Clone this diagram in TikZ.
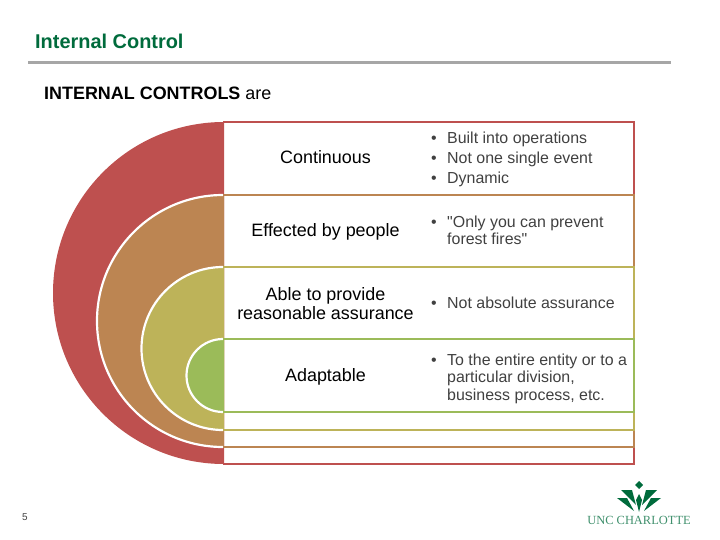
\documentclass[tikz,border=0pt]{standalone}
\usepackage{fontspec}
\setmainfont{Liberation Sans}[Ligatures=TeXOff]
\usetikzlibrary{positioning}
\definecolor{ringred}{HTML}{BE504F}
\definecolor{ringbrown}{HTML}{BC8552}
\definecolor{ringolive}{HTML}{BDB359}
\definecolor{ringgreen}{HTML}{9BBB59}
\definecolor{titlegreen}{HTML}{006B3C}
\definecolor{rulegrey}{HTML}{A6A6A6}
\definecolor{bodygrey}{HTML}{404040}
\tikzset{
    ring/.style = {draw=white, line width=2.2pt},
    band/.style = {line width=2.4pt},
    itemlabel/.style = {font=\fontsize{18}{19}\selectfont, align=center, text=black, inner sep=0pt},
    bullets/.style = {font=\fontsize{16}{17.5}\selectfont, align=left, anchor=west, text=bodygrey, inner sep=0pt},
    leaf/.style = {fill=titlegreen, draw=none}
}
\newcommand{\itembullet}{\makebox[16bp][l]{\textbullet}}

\begin{document}
\begin{tikzpicture}[x=1bp, y=-1bp]
    \useasboundingbox (0,0) rectangle (720,540);

    % Heading
    \node[font=\bfseries\fontsize{20}{22}\selectfont, text=titlegreen, anchor=west, inner sep=0pt] (title) at (35,41) {Internal Control};
    \coordinate (ruleL) at (28,62.5);
    \coordinate (ruleR) at (671,62.5);
    \draw[rulegrey, line width=2.6pt] (ruleL) -- (ruleR);
    \node[font=\fontsize{18}{20}\selectfont, anchor=west, inner sep=0pt] (intro) at (44,93) {\textbf{INTERNAL CONTROLS} are};

    % Half discs
    \fill[ringred] (224,122) arc[start angle=270, end angle=90, radius=171] -- cycle;
    \fill[ringbrown] (224,195) arc[start angle=270, end angle=90, radius=126] -- cycle;
    \draw[ring] (223,195) arc[start angle=270, end angle=90, radius=126];
    \fill[ringolive] (224,267) arc[start angle=270, end angle=90, radius=81.5] -- cycle;
    \draw[ring] (223,267) arc[start angle=270, end angle=90, radius=81.5];
    \fill[ringgreen] (224,339) arc[start angle=270, end angle=90, radius=36.5] -- cycle;
    \draw[ring] (223,339) arc[start angle=270, end angle=90, radius=36.5];

    % Bands
    \coordinate (r1a) at (223,122); \coordinate (r1b) at (634,122);
    \coordinate (r2a) at (223,195); \coordinate (r2b) at (634,195);
    \coordinate (r3a) at (223,267); \coordinate (r3b) at (634,267);
    \coordinate (r4a) at (223,339); \coordinate (r4b) at (634,339);
    \coordinate (r5a) at (223,412); \coordinate (r5b) at (634,412);
    \coordinate (r6a) at (223,430); \coordinate (r6b) at (634,430);
    \coordinate (r7a) at (223,447); \coordinate (r7b) at (634,447);
    \coordinate (r8a) at (223,464); \coordinate (r8b) at (634,464);
    \draw[band, ringred] (r2b) -- (r1b) -- (r1a) (r7b) -- (r8b) -- (r8a);
    \draw[band, ringbrown] (r2a) -- (r2b) -- (r3b) (r6b) -- (r7b) -- (r7a);
    \draw[band, ringolive] (r3a) -- (r3b) -- (r4b) (r5b) -- (r6b) -- (r6a);
    \draw[band, ringgreen] (r4a) -- (r4b) -- (r5b) -- (r5a);

    % Left labels
    \node[itemlabel] (continuous) at (325.5,157.5) {Continuous};
    \node[itemlabel] (people) at (325.5,232) {Effected by people};
    \node[itemlabel] (able) at (325.5,303.5) {Able to provide\\reasonable assurance};
    \node[itemlabel] (adaptable) at (325.5,377) {Adaptable};

    % Right lists
    \node[bullets, font=\fontsize{16}{20}\selectfont] (list1) at (431,159) {\itembullet Built into operations\\\itembullet Not one single event\\\itembullet Dynamic};
    \node[bullets] (list2) at (431,230.5) {\itembullet "Only you can prevent\\\hspace*{16bp}forest fires"};
    \node[bullets] (list3) at (431,303) {\itembullet Not absolute assurance};
    \node[bullets] (list4) at (431,378.5) {\itembullet To the entire entity or to a\\\hspace*{16bp}particular division,\\\hspace*{16bp}business process, etc.};

    % Footer
    \node[font=\fontsize{10}{11}\selectfont, text=bodygrey, inner sep=0pt] (page) at (25,517) {5};
    \fill[leaf] (639,481) -- (643,485) -- (639,489) -- (635,485) -- cycle;
    \fill[leaf] (621,490) -- (632,490) -- (636,505) -- cycle;
    \fill[leaf] (657,490) -- (646,490) -- (642,505) -- cycle;
    \fill[leaf] (617,498) -- (627,498) -- (634,511) -- cycle;
    \fill[leaf] (661,498) -- (651,498) -- (644,511) -- cycle;
    \fill[leaf] (639,494) -- (642,500) -- (639,512) -- (636,500) -- cycle;
    \node[font=\fontsize{12.5}{14}\selectfont, text=titlegreen!75, inner sep=0pt] (logotext) at (639,520) {\fontspec{Liberation Serif}UNC CHARLOTTE};
\end{tikzpicture}
\end{document}
